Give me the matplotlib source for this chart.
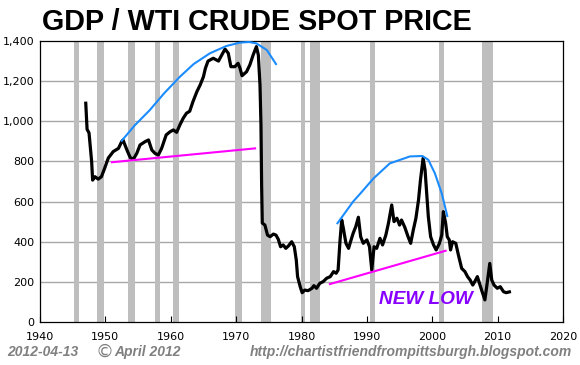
import matplotlib
matplotlib.use("Agg")
import matplotlib.pyplot as plt
import matplotlib.ticker as ticker

## Chart data
Years = [1947.0, 1947.2, 1947.5, 1947.9, 1948.05, 1948.4, 1948.9, 1949.4, 1949.9, 1950.45,
         1951.2, 1952.0, 1952.5, 1952.7, 1953.3, 1953.8, 1954.3, 1954.8, 1955.3, 1956.1,
         1956.6, 1957.1, 1957.6, 1958.1, 1958.6, 1959.3, 1959.9, 1960.4, 1960.9, 1961.4,
         1961.9, 1962.4, 1962.9, 1963.4, 1964.0, 1964.5, 1965.0, 1965.3, 1965.7, 1966.5,
         1967.3, 1967.8, 1968.3, 1968.8, 1969.2, 1969.8, 1970.3, 1970.6, 1970.9, 1971.6,
         1972.1, 1972.6, 1973.1, 1973.4, 1973.65, 1973.8, 1973.9, 1974.0, 1974.4, 1974.8,
         1975.2, 1975.7, 1976.1, 1976.45, 1976.8, 1977.2, 1977.6, 1978.0, 1978.5, 1978.9,
         1979.2, 1979.4, 1979.8, 1980.1, 1980.5, 1981.0, 1981.6, 1981.9, 1982.3, 1982.8,
         1983.3, 1983.85, 1984.4, 1984.9, 1985.3, 1985.6, 1985.9, 1986.15, 1986.4, 1986.8,
         1987.2, 1987.5, 1987.9, 1988.3, 1988.7, 1989.05, 1989.45, 1990.0, 1990.4, 1990.75,
         1991.1, 1991.5, 1992.0, 1992.4, 1992.9, 1993.3, 1993.8, 1994.15, 1994.6, 1995.0,
         1995.3, 1995.8, 1996.3, 1996.7, 1997.1, 1997.5, 1997.9, 1998.2, 1998.6, 1998.9,
         1999.15, 1999.4, 1999.75, 2000.2, 2000.6, 2001.1, 2001.45, 2001.7, 2002.05, 2002.3,
         2002.6, 2002.8, 2003.1, 2003.6, 2004.0, 2004.5, 2005.0, 2005.4, 2005.8, 2006.2,
         2006.5, 2006.9, 2007.55, 2008.05, 2008.4, 2008.8, 2009.1, 2009.45, 2009.95, 2010.4,
         2010.9, 2011.3, 2011.8]
Ratio = [1090, 960, 942, 799, 707, 724, 712, 724, 767, 817,
         849, 865, 899, 907, 857, 819, 812, 840, 882, 899,
         907, 857, 840, 832, 865, 932, 948, 957, 945, 982,
         1015, 1040, 1050, 1098, 1148, 1181, 1222, 1264, 1300, 1314,
         1300, 1330, 1360, 1339, 1272, 1272, 1289, 1264, 1227, 1247,
         1281, 1330, 1372, 1330, 1181, 982, 683, 493, 483, 433,
         425, 438, 433, 412, 375, 384, 367, 379, 400, 375,
         309, 226, 176, 146, 159, 156, 168, 181, 168, 193,
         201, 218, 226, 251, 243, 259, 409, 508, 467, 392,
         367, 400, 442, 475, 522, 425, 392, 409, 375, 259,
         375, 367, 417, 384, 433, 492, 583, 500, 517, 483,
         508, 472, 425, 392, 458, 517, 608, 708, 816, 757,
         641, 525, 425, 384, 359, 392, 433, 550, 492, 425,
         409, 359, 400, 392, 334, 267, 251, 226, 209, 184,
         201, 226, 159, 110, 193, 292, 209, 184, 168, 176,
         151, 146, 150]

## Recession periods (start, end)
Recessions = [(1945.2, 1945.97), (1948.67, 1949.74), (1953.46, 1954.49), (1957.59, 1958.36),
              (1960.30, 1961.26), (1969.87, 1970.85), (1973.80, 1975.29), (1979.92, 1980.54),
              (1981.30, 1982.83), (1990.48, 1991.24), (2001.03, 2001.80), (2007.60, 2009.25)]

## Hand drawn annotations
Arc1X = [1952.5, 1954.5, 1956.8, 1959.0, 1961.4, 1963.5, 1966.0, 1968.5, 1970.6, 1972.0, 1973.1, 1974.7, 1976.1]
Arc1Y = [903, 980, 1056, 1140, 1222, 1285, 1339, 1375, 1392, 1395, 1388, 1355, 1285]
Arc2X = [1985.5, 1987.9, 1989.0, 1991.0, 1993.5, 1996.6, 1998.5, 1999.4, 2000.4, 2001.45, 2002.3]
Arc2Y = [492, 600, 640, 715, 790, 825, 827, 808, 741, 641, 528]
Support1X = [1951.0, 1972.9]
Support1Y = [796, 865]
Support2X = [1984.35, 2002.05]
Support2Y = [189, 355]

YTicks = [0, 200, 400, 600, 800, 1000, 1200, 1400]
XTicks = [1940, 1950, 1960, 1970, 1980, 1990, 2000, 2010, 2020]

fig = plt.figure(figsize=(5.8, 3.65), dpi=100)
ax = fig.add_axes([40/580, 1-322/365, 523/580, 281/365])

for s, e in Recessions:
    ax.axvspan(s, e, color="#bebebe", lw=0, zorder=1)
for v in YTicks[1:-1]:
    ax.axhline(v, color="#a8a8a8", lw=1.0, zorder=0.5)

ax.plot(Years, Ratio, color="black", lw=2.3, zorder=4, solid_joinstyle="round")
ax.plot(Arc1X, Arc1Y, color="#1a8cff", lw=1.5, zorder=5)
ax.plot(Arc2X, Arc2Y, color="#1a8cff", lw=1.5, zorder=5)
ax.plot(Support1X, Support1Y, color="#ff00ff", lw=1.5, zorder=5)
ax.plot(Support2X, Support2Y, color="#ff00ff", lw=1.5, zorder=5)

ax.text(1999.1, 110, "NEW LOW", color="#8800ff", fontsize=13.7, fontweight="bold", style="italic",
        family="Liberation Sans", ha="center", va="center", zorder=6)

ax.set_xlim(1940, 2020)
ax.set_ylim(0, 1400)
ax.set_xticks(XTicks)
ax.set_yticks(YTicks)
ax.yaxis.set_major_formatter(ticker.FuncFormatter(lambda v, p: "{:,}".format(int(v))))
ax.tick_params(axis="x", direction="in", length=4, width=0.8, pad=7, labelsize=8)
ax.tick_params(axis="y", length=0, pad=4, labelsize=8)
for sp in ax.spines.values():
    sp.set_linewidth(0.9)
    sp.set_color("black")

fig.text(42/580, 1-22/365, "GDP / WTI CRUDE SPOT PRICE", fontsize=20.7, fontweight="bold",
         family="Liberation Sans", ha="left", va="center")
FooterStyle = dict(fontsize=10, fontweight="bold", style="italic", color="#808080", va="center")
fig.text(7/580, 1-352/365, "2012-04-13", family="Liberation Sans", ha="left", **FooterStyle)
fig.text(95/580, 1-357/365, "\u00a9", family="DejaVu Sans", ha="left", va="baseline", fontsize=13, color="#808080")
fig.text(114/580, 1-352/365, "April 2012", family="Liberation Sans", ha="left", **FooterStyle)
fig.text(572/580, 1-352/365, "http://chartistfriendfrompittsburgh.blogspot.com", family="Liberation Sans",
         ha="right", **FooterStyle)

plt.savefig("out.png", dpi=100)
